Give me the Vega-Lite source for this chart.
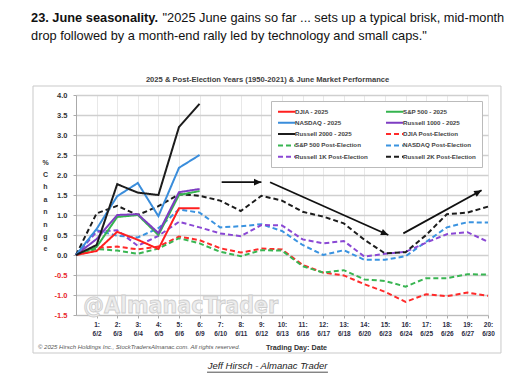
{
  "$schema": "https://vega.github.io/schema/vega-lite/v6.json",
  "width": 412,
  "height": 220,
  "autosize": {"type": "none"},
  "padding": {"left": 76, "top": 95, "right": 25, "bottom": 70},
  "background": "white",
  "config": {"view": {"stroke": null}, "font": "Liberation Sans", "axis": {"labelOverlap": false, "labelFlush": false}},
  "resolve": {"axis": {"x": "independent", "y": "independent"}},
  "datasets": {
    "lines": [
      {"series": "DJIA Post-Election", "day": 0, "value": 0},
      {"series": "DJIA Post-Election", "day": 1, "value": 0.18},
      {"series": "DJIA Post-Election", "day": 2, "value": 0.21},
      {"series": "DJIA Post-Election", "day": 3, "value": 0.14},
      {"series": "DJIA Post-Election", "day": 4, "value": 0.21},
      {"series": "DJIA Post-Election", "day": 5, "value": 0.46},
      {"series": "DJIA Post-Election", "day": 6, "value": 0.37},
      {"series": "DJIA Post-Election", "day": 7, "value": 0.17},
      {"series": "DJIA Post-Election", "day": 8, "value": 0.06},
      {"series": "DJIA Post-Election", "day": 9, "value": 0.16},
      {"series": "DJIA Post-Election", "day": 10, "value": 0.14},
      {"series": "DJIA Post-Election", "day": 11, "value": -0.25},
      {"series": "DJIA Post-Election", "day": 12, "value": -0.44},
      {"series": "DJIA Post-Election", "day": 13, "value": -0.51},
      {"series": "DJIA Post-Election", "day": 14, "value": -0.73},
      {"series": "DJIA Post-Election", "day": 15, "value": -0.92},
      {"series": "DJIA Post-Election", "day": 16, "value": -1.17},
      {"series": "DJIA Post-Election", "day": 17, "value": -0.98},
      {"series": "DJIA Post-Election", "day": 18, "value": -1.03},
      {"series": "DJIA Post-Election", "day": 19, "value": -0.94},
      {"series": "DJIA Post-Election", "day": 20, "value": -1.02},
      {"series": "S&P 500 Post-Election", "day": 0, "value": 0},
      {"series": "S&P 500 Post-Election", "day": 1, "value": 0.15},
      {"series": "S&P 500 Post-Election", "day": 2, "value": 0.11},
      {"series": "S&P 500 Post-Election", "day": 3, "value": 0.03},
      {"series": "S&P 500 Post-Election", "day": 4, "value": 0.16},
      {"series": "S&P 500 Post-Election", "day": 5, "value": 0.42},
      {"series": "S&P 500 Post-Election", "day": 6, "value": 0.29},
      {"series": "S&P 500 Post-Election", "day": 7, "value": 0.08},
      {"series": "S&P 500 Post-Election", "day": 8, "value": -0.03},
      {"series": "S&P 500 Post-Election", "day": 9, "value": 0.12},
      {"series": "S&P 500 Post-Election", "day": 10, "value": 0.11},
      {"series": "S&P 500 Post-Election", "day": 11, "value": -0.28},
      {"series": "S&P 500 Post-Election", "day": 12, "value": -0.44},
      {"series": "S&P 500 Post-Election", "day": 13, "value": -0.38},
      {"series": "S&P 500 Post-Election", "day": 14, "value": -0.61},
      {"series": "S&P 500 Post-Election", "day": 15, "value": -0.65},
      {"series": "S&P 500 Post-Election", "day": 16, "value": -0.79},
      {"series": "S&P 500 Post-Election", "day": 17, "value": -0.58},
      {"series": "S&P 500 Post-Election", "day": 18, "value": -0.58},
      {"series": "S&P 500 Post-Election", "day": 19, "value": -0.48},
      {"series": "S&P 500 Post-Election", "day": 20, "value": -0.49},
      {"series": "NASDAQ Post-Election", "day": 0, "value": 0},
      {"series": "NASDAQ Post-Election", "day": 1, "value": 0.62},
      {"series": "NASDAQ Post-Election", "day": 2, "value": 0.48},
      {"series": "NASDAQ Post-Election", "day": 3, "value": 0.44},
      {"series": "NASDAQ Post-Election", "day": 4, "value": 0.67},
      {"series": "NASDAQ Post-Election", "day": 5, "value": 1.14},
      {"series": "NASDAQ Post-Election", "day": 6, "value": 1.06},
      {"series": "NASDAQ Post-Election", "day": 7, "value": 0.69},
      {"series": "NASDAQ Post-Election", "day": 8, "value": 0.72},
      {"series": "NASDAQ Post-Election", "day": 9, "value": 0.77},
      {"series": "NASDAQ Post-Election", "day": 10, "value": 0.6},
      {"series": "NASDAQ Post-Election", "day": 11, "value": 0.25},
      {"series": "NASDAQ Post-Election", "day": 12, "value": 0.0},
      {"series": "NASDAQ Post-Election", "day": 13, "value": 0.12},
      {"series": "NASDAQ Post-Election", "day": 14, "value": -0.12},
      {"series": "NASDAQ Post-Election", "day": 15, "value": -0.12},
      {"series": "NASDAQ Post-Election", "day": 16, "value": -0.03},
      {"series": "NASDAQ Post-Election", "day": 17, "value": 0.33},
      {"series": "NASDAQ Post-Election", "day": 18, "value": 0.69},
      {"series": "NASDAQ Post-Election", "day": 19, "value": 0.82},
      {"series": "NASDAQ Post-Election", "day": 20, "value": 0.81},
      {"series": "Russell 1K Post-Election", "day": 0, "value": 0},
      {"series": "Russell 1K Post-Election", "day": 1, "value": 0.58},
      {"series": "Russell 1K Post-Election", "day": 2, "value": 0.62},
      {"series": "Russell 1K Post-Election", "day": 3, "value": 0.23},
      {"series": "Russell 1K Post-Election", "day": 4, "value": 0.48},
      {"series": "Russell 1K Post-Election", "day": 5, "value": 0.83},
      {"series": "Russell 1K Post-Election", "day": 6, "value": 0.69},
      {"series": "Russell 1K Post-Election", "day": 7, "value": 0.54},
      {"series": "Russell 1K Post-Election", "day": 8, "value": 0.47},
      {"series": "Russell 1K Post-Election", "day": 9, "value": 0.75},
      {"series": "Russell 1K Post-Election", "day": 10, "value": 0.74},
      {"series": "Russell 1K Post-Election", "day": 11, "value": 0.39},
      {"series": "Russell 1K Post-Election", "day": 12, "value": 0.29},
      {"series": "Russell 1K Post-Election", "day": 13, "value": 0.35},
      {"series": "Russell 1K Post-Election", "day": 14, "value": -0.04},
      {"series": "Russell 1K Post-Election", "day": 15, "value": 0.03},
      {"series": "Russell 1K Post-Election", "day": 16, "value": 0.08},
      {"series": "Russell 1K Post-Election", "day": 17, "value": 0.31},
      {"series": "Russell 1K Post-Election", "day": 18, "value": 0.52},
      {"series": "Russell 1K Post-Election", "day": 19, "value": 0.57},
      {"series": "Russell 1K Post-Election", "day": 20, "value": 0.33},
      {"series": "Russell 2K Post-Election", "day": 0, "value": 0},
      {"series": "Russell 2K Post-Election", "day": 1, "value": 1.04},
      {"series": "Russell 2K Post-Election", "day": 2, "value": 1.23},
      {"series": "Russell 2K Post-Election", "day": 3, "value": 1.0},
      {"series": "Russell 2K Post-Election", "day": 4, "value": 1.22},
      {"series": "Russell 2K Post-Election", "day": 5, "value": 1.52},
      {"series": "Russell 2K Post-Election", "day": 6, "value": 1.48},
      {"series": "Russell 2K Post-Election", "day": 7, "value": 1.36},
      {"series": "Russell 2K Post-Election", "day": 8, "value": 1.1},
      {"series": "Russell 2K Post-Election", "day": 9, "value": 1.48},
      {"series": "Russell 2K Post-Election", "day": 10, "value": 1.36},
      {"series": "Russell 2K Post-Election", "day": 11, "value": 1.08},
      {"series": "Russell 2K Post-Election", "day": 12, "value": 0.96},
      {"series": "Russell 2K Post-Election", "day": 13, "value": 0.79},
      {"series": "Russell 2K Post-Election", "day": 14, "value": 0.38},
      {"series": "Russell 2K Post-Election", "day": 15, "value": 0.04},
      {"series": "Russell 2K Post-Election", "day": 16, "value": 0.07},
      {"series": "Russell 2K Post-Election", "day": 17, "value": 0.5},
      {"series": "Russell 2K Post-Election", "day": 18, "value": 1.02},
      {"series": "Russell 2K Post-Election", "day": 19, "value": 1.06},
      {"series": "Russell 2K Post-Election", "day": 20, "value": 1.21},
      {"series": "S&P 500 - 2025", "day": 0, "value": 0},
      {"series": "S&P 500 - 2025", "day": 1, "value": 0.2},
      {"series": "S&P 500 - 2025", "day": 2, "value": 0.95},
      {"series": "S&P 500 - 2025", "day": 3, "value": 1.0},
      {"series": "S&P 500 - 2025", "day": 4, "value": 0.5},
      {"series": "S&P 500 - 2025", "day": 5, "value": 1.5},
      {"series": "S&P 500 - 2025", "day": 6, "value": 1.6},
      {"series": "DJIA - 2025", "day": 0, "value": 0},
      {"series": "DJIA - 2025", "day": 1, "value": 0.1},
      {"series": "DJIA - 2025", "day": 2, "value": 0.58},
      {"series": "DJIA - 2025", "day": 3, "value": 0.38},
      {"series": "DJIA - 2025", "day": 4, "value": 0.15},
      {"series": "DJIA - 2025", "day": 5, "value": 1.17},
      {"series": "DJIA - 2025", "day": 6, "value": 1.17},
      {"series": "Russell 1000 - 2025", "day": 0, "value": 0},
      {"series": "Russell 1000 - 2025", "day": 1, "value": 0.4},
      {"series": "Russell 1000 - 2025", "day": 2, "value": 1.0},
      {"series": "Russell 1000 - 2025", "day": 3, "value": 1.02},
      {"series": "Russell 1000 - 2025", "day": 4, "value": 0.55},
      {"series": "Russell 1000 - 2025", "day": 5, "value": 1.57},
      {"series": "Russell 1000 - 2025", "day": 6, "value": 1.65},
      {"series": "NASDAQ - 2025", "day": 0, "value": 0},
      {"series": "NASDAQ - 2025", "day": 1, "value": 0.65},
      {"series": "NASDAQ - 2025", "day": 2, "value": 1.47},
      {"series": "NASDAQ - 2025", "day": 3, "value": 1.8},
      {"series": "NASDAQ - 2025", "day": 4, "value": 0.97},
      {"series": "NASDAQ - 2025", "day": 5, "value": 2.18},
      {"series": "NASDAQ - 2025", "day": 6, "value": 2.5},
      {"series": "Russell 2000 - 2025", "day": 0, "value": 0},
      {"series": "Russell 2000 - 2025", "day": 1, "value": 0.25},
      {"series": "Russell 2000 - 2025", "day": 2, "value": 1.77},
      {"series": "Russell 2000 - 2025", "day": 3, "value": 1.56},
      {"series": "Russell 2000 - 2025", "day": 4, "value": 1.5},
      {"series": "Russell 2000 - 2025", "day": 5, "value": 3.2},
      {"series": "Russell 2000 - 2025", "day": 6, "value": 3.78}
    ],
    "arrows": [
      {"arrow": 1, "x0": 7.07, "y0": 1.82, "x1": 9.0, "y1": 1.82},
      {"arrow": 2, "x0": 9.42, "y0": 1.82, "x1": 15.16, "y1": 0.5},
      {"arrow": 3, "x0": 15.89, "y0": 0.54, "x1": 19.69, "y1": 1.62}
    ]
  },
  "layer": [
    {
      "data": {"values": [{}]},
      "mark": {"type": "rect", "fill": null, "stroke": "#c9c9c9", "strokeWidth": 1},
      "encoding": {
        "x": {"datum": -2.087, "type": "quantitative", "axis": null},
        "x2": {"datum": 20.63},
        "y": {"datum": 4.225, "type": "quantitative", "axis": null},
        "y2": {"datum": -2.45}
      }
    },
    {
      "data": {"values": [{}]},
      "mark": {"type": "text", "text": "@AlmanacTrader", "align": "left", "baseline": "alphabetic", "font": "Liberation Sans Narrow, DejaVu Sans Condensed, sans-serif", "fontWeight": "bold", "fontSize": 23, "fill": "#ececec", "stroke": "#cdcdcd", "strokeWidth": 0.8},
      "encoding": {
        "x": {"datum": 0.35, "type": "quantitative", "axis": null},
        "y": {"datum": -1.45, "type": "quantitative", "axis": null}
      }
    },
    {
      "data": {"name": "lines"},
      "mark": {"type": "line", "strokeWidth": 2},
      "encoding": {
        "x": {
          "field": "day", "type": "quantitative",
          "scale": {"domain": [0, 20], "nice": false, "zero": false},
          "axis": {
            "values": [1, 2, 3, 4, 5, 6, 7, 8, 9, 10, 11, 12, 13, 14, 15, 16, 17, 18, 19, 20],
            "labelExpr": "[datum.value + ':', ['6/2','6/3','6/4','6/5','6/6','6/9','6/10','6/11','6/12','6/13','6/16','6/17','6/18','6/20','6/23','6/24','6/25','6/26','6/27','6/30'][datum.value - 1]]",
            "labelOverlap": false, "labelFlush": false,
            "labelFont": "Liberation Sans", "labelFontSize": 6.5, "labelFontWeight": "bold", "labelColor": "#2d2d44",
            "labelLineHeight": 9, "labelPadding": 3, "labelBaseline": "top",
            "tickSize": 3, "tickColor": "#aaaaaa", "domainColor": "#bbbbbb",
            "grid": true, "gridColor": "#e8e8e8", "gridWidth": 1,
            "title": "Trading Day: Date", "titleFont": "Liberation Sans", "titleFontSize": 7.2, "titleFontWeight": "bold", "titleColor": "#333333",
            "titleX": 220, "titleY": 32, "titleBaseline": "middle", "titleAlign": "center"
          }
        },
        "y": {
          "field": "value", "type": "quantitative",
          "scale": {"domain": [-1.5, 4], "nice": false, "zero": false},
          "axis": {
            "values": [-1.5, -1, -0.5, 0, 0.5, 1, 1.5, 2, 2.5, 3, 3.5, 4],
            "labelExpr": "replace(format(datum.value, '.1f'), '\u2212', '-')",
            "labelOverlap": false, "labelFlush": false,
            "labelFont": "Liberation Sans", "labelFontSize": 7.5, "labelFontWeight": "bold",
            "labelColor": {"condition": {"test": "datum.value < 0", "value": "#e8262b"}, "value": "#333333"},
            "labelPadding": 6, "tickSize": 3, "tickColor": "#aaaaaa", "domainColor": "#aaaaaa",
            "grid": true, "gridColor": "#cfcfcf", "gridWidth": 1.3,
            "title": ["%", "", "C", "h", "a", "n", "n", "g", "e"],
            "titleAngle": 0, "titleAlign": "center", "titleBaseline": "top",
            "titleX": -31, "titleY": 63, "titleLineHeight": 12.4,
            "titleFont": "Liberation Sans", "titleFontSize": 7, "titleFontWeight": "bold", "titleColor": "#333333"
          }
        },
        "color": {
          "field": "series", "type": "nominal",
          "scale": {
            "domain": ["DJIA - 2025", "S&P 500 - 2025", "NASDAQ - 2025", "Russell 1000 - 2025", "Russell 2000 - 2025", "DJIA Post-Election", "S&P 500 Post-Election", "NASDAQ Post-Election", "Russell 1K Post-Election", "Russell 2K Post-Election"],
            "range": ["#ff1f1f", "#35b44f", "#3a8ddb", "#7e3dc2", "#1c1c1c", "#ff2a2a", "#39b552", "#3a93e0", "#8a48d4", "#1c1c1c"]
          },
          "legend": {
            "title": null, "orient": "top-right", "direction": "horizontal", "offset": 6, "columns": 2, "columnPadding": 14, "rowPadding": 2.3,
            "padding": 6, "strokeColor": "#bbbbbb", "fillColor": "white",
            "symbolType": "M-1,0L4,0", "symbolSize": 49, "symbolStrokeWidth": 2,
            "labelFont": "Liberation Sans", "labelFontSize": 6.2, "labelFontWeight": "bold", "labelColor": "#444444", "labelOffset": 9
          }
        },
        "strokeDash": {
          "field": "series", "type": "nominal",
          "scale": {
            "domain": ["DJIA - 2025", "S&P 500 - 2025", "NASDAQ - 2025", "Russell 1000 - 2025", "Russell 2000 - 2025", "DJIA Post-Election", "S&P 500 Post-Election", "NASDAQ Post-Election", "Russell 1K Post-Election", "Russell 2K Post-Election"],
            "range": [[1, 0], [1, 0], [1, 0], [1, 0], [1, 0], [5, 3], [5, 3], [5, 3], [5, 3], [5, 3]]
          },
          "legend": {
            "title": null, "orient": "top-right", "direction": "horizontal", "offset": 6, "columns": 2, "columnPadding": 14, "rowPadding": 2.3,
            "padding": 6, "strokeColor": "#bbbbbb", "fillColor": "white",
            "symbolType": "M-1,0L4,0", "symbolSize": 49, "symbolStrokeWidth": 2,
            "labelFont": "Liberation Sans", "labelFontSize": 6.2, "labelFontWeight": "bold", "labelColor": "#444444", "labelOffset": 9
          }
        }
      }
    },
    {
      "data": {"values": [{}]},
      "mark": {"type": "text", "text": "23. June seasonality.", "align": "left", "baseline": "alphabetic", "font": "Liberation Sans", "fontSize": 12.8, "fontWeight": "bold", "color": "#111111"},
      "encoding": {
        "x": {"datum": -2.184, "type": "quantitative", "axis": null},
        "y": {"datum": 5.825, "type": "quantitative", "axis": null}
      }
    },
    {
      "data": {"values": [{}]},
      "mark": {"type": "text", "text": "\"2025 June gains so far ... sets up a typical brisk, mid-month", "align": "left", "baseline": "alphabetic", "font": "Liberation Sans", "fontSize": 12.8, "color": "#111111"},
      "encoding": {
        "x": {"datum": 4.2, "type": "quantitative", "axis": null},
        "y": {"datum": 5.825, "type": "quantitative", "axis": null}
      }
    },
    {
      "data": {"values": [{}]},
      "mark": {"type": "text", "text": "drop followed by a month-end rally led by technology and small caps.\"", "align": "left", "baseline": "alphabetic", "font": "Liberation Sans", "fontSize": 12.8, "color": "#111111"},
      "encoding": {
        "x": {"datum": -2.184, "type": "quantitative", "axis": null},
        "y": {"datum": 5.375, "type": "quantitative", "axis": null}
      }
    },
    {
      "data": {"name": "arrows"},
      "mark": {"type": "rule", "color": "#111111", "strokeWidth": 1.8},
      "encoding": {
        "x": {"field": "x0", "type": "quantitative", "axis": null},
        "y": {"field": "y0", "type": "quantitative", "axis": null},
        "x2": {"field": "x1"},
        "y2": {"field": "y1"}
      }
    },
    {
      "data": {"name": "arrows"},
      "transform": [{"filter": "datum.arrow == 1"}],
      "mark": {"type": "point", "shape": "M0,0L-1,-0.45L-1,0.45Z", "filled": true, "color": "#111111", "size": 220, "opacity": 1, "angle": 0},
      "encoding": {"x": {"field": "x1", "type": "quantitative", "axis": null}, "y": {"field": "y1", "type": "quantitative", "axis": null}}
    },
    {
      "data": {"name": "arrows"},
      "transform": [{"filter": "datum.arrow == 2"}],
      "mark": {"type": "point", "shape": "M0,0L-1,-0.45L-1,0.45Z", "filled": true, "color": "#111111", "size": 220, "opacity": 1, "angle": 24},
      "encoding": {"x": {"field": "x1", "type": "quantitative", "axis": null}, "y": {"field": "y1", "type": "quantitative", "axis": null}}
    },
    {
      "data": {"name": "arrows"},
      "transform": [{"filter": "datum.arrow == 3"}],
      "mark": {"type": "point", "shape": "M0,0L-1,-0.45L-1,0.45Z", "filled": true, "color": "#111111", "size": 220, "opacity": 1, "angle": -29},
      "encoding": {"x": {"field": "x1", "type": "quantitative", "axis": null}, "y": {"field": "y1", "type": "quantitative", "axis": null}}
    },
    {
      "data": {"values": [{}]},
      "mark": {"type": "text", "text": "2025 & Post-Election Years (1950-2021) & June Market Performance", "align": "center", "baseline": "middle", "font": "Liberation Sans", "fontSize": 7.6, "fontWeight": "bold", "color": "#404040"},
      "encoding": {
        "x": {"datum": 9.3, "type": "quantitative", "axis": null},
        "y": {"datum": 4.375, "type": "quantitative", "axis": null}
      }
    },
    {
      "data": {"values": [{}]},
      "mark": {"type": "text", "text": "\u00a9 2025 Hirsch Holdings Inc., StockTradersAlmanac.com. All rights reserved.", "align": "left", "baseline": "middle", "font": "Liberation Sans", "fontSize": 6, "fontStyle": "italic", "color": "#555555"},
      "encoding": {
        "x": {"datum": -1.845, "type": "quantitative", "axis": null},
        "y": {"datum": -2.3, "type": "quantitative", "axis": null}
      }
    },
    {
      "data": {"values": [{}]},
      "mark": {"type": "text", "text": "Jeff Hirsch - Almanac Trader", "align": "center", "baseline": "alphabetic", "font": "Liberation Sans", "fontSize": 9.5, "fontStyle": "italic", "color": "#222222"},
      "encoding": {
        "x": {"datum": 9.3, "type": "quantitative", "axis": null},
        "y": {"datum": -2.86, "type": "quantitative", "axis": null}
      }
    },
    {
      "data": {"values": [{}]},
      "mark": {"type": "rule", "color": "#222222", "strokeWidth": 0.8},
      "encoding": {
        "x": {"datum": 6.36, "type": "quantitative", "axis": null},
        "x2": {"datum": 12.23},
        "y": {"datum": -2.93, "type": "quantitative", "axis": null}
      }
    }
  ]
}
